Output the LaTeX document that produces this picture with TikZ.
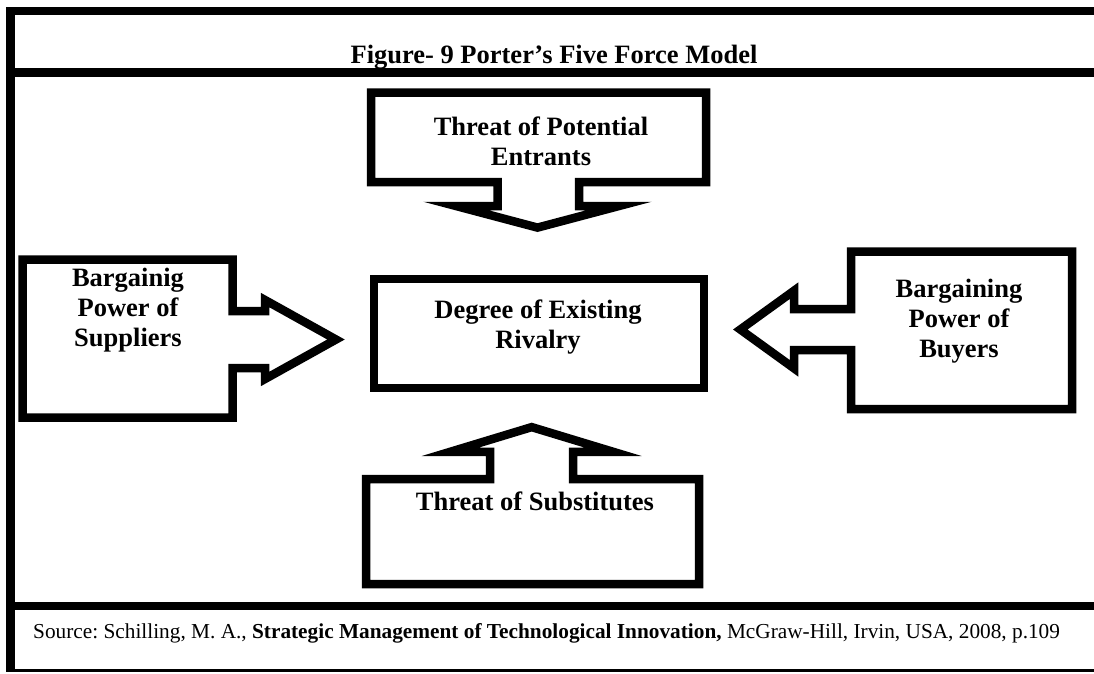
\documentclass[tikz,border=0pt]{standalone}
\usepackage{fontspec}
\setmainfont{Liberation Serif}
\frenchspacing
\begin{document}
\begin{tikzpicture}[x=1pt,y=-1pt,
  callout/.style={draw=black, line width=8.5pt, line join=miter, miter limit=30, fill=white},
  boxtext/.style={font=\fontsize{26.5}{30}\selectfont\bfseries, align=center, inner sep=0pt},
  frameline/.style={draw=black, line width=8.5pt, line cap=butt, line join=miter},
  thinline/.style={draw=black, line width=2.4pt}]
\useasboundingbox (0,0) rectangle (1094,673);
% frame
\draw[frameline] (1094,11) -- (10.5,11) -- (10.5,672);
\draw[frameline] (10.5,72.5) -- (1094,72.5);
\draw[frameline] (10.5,606) -- (1094,606);
\draw[thinline] (10.5,670.5) -- (1094,670.5);
% title
\node[boxtext, anchor=base] (title) at (554,63) {Figure- 9 Porter’s Five Force Model};
% top callout: Threat of Potential Entrants
\draw[callout] (371,92.5) -- (706,92.5) -- (706,182) -- (579,182) -- (579,206) -- (619,206)
  -- (537.5,227.6) -- (456,206) -- (497.5,206) -- (497.5,182) -- (371,182) -- cycle;
\node[boxtext] (entrants) at (541,141.5) {Threat of Potential\\Entrants};
% left callout: suppliers
\draw[callout] (22.5,259.5) -- (232.5,259.5) -- (232.5,311) -- (265,311) -- (265,300)
  -- (336,339.5) -- (265,379) -- (265,368) -- (232.5,368) -- (232.5,417.5) -- (22.5,417.5) -- cycle;
\node[boxtext] (suppliers) at (128,310) {Bargainig\\Power of\\Suppliers};
% right callout: buyers
\draw[callout] (1072,251.5) -- (1072,409) -- (851,409) -- (851,350) -- (794,350) -- (794,368.3)
  -- (740.3,329.5) -- (794,290.7) -- (794,309) -- (851,309) -- (851,251.5) -- cycle;
\node[boxtext] (buyers) at (959,321) {Bargaining\\Power of\\Buyers};
% bottom callout: substitutes
\draw[callout] (366,584) -- (699,584) -- (699,479) -- (573,479) -- (573,451.75) -- (613,451.75)
  -- (531.7,427.1) -- (450.4,451.75) -- (490,451.75) -- (490,479) -- (366,479) -- cycle;
\node[boxtext, anchor=base] (substitutes) at (535,510) {Threat of Substitutes};
% center box
\node[draw=black, line width=8.5pt, minimum width=330pt, minimum height=109pt, inner sep=0pt] (rivalry) at (539,333.5) {};
\node[boxtext] (rivalrytext) at (538,327) {Degree of Existing\\Rivalry};
% source
\node[anchor=base west, inner sep=0pt, font=\fontsize{21.3}{24}\selectfont] (source) at (33,638)
  {Source: Schilling, M. A., \textbf{Strategic Management of Technological Innovation,} McGraw-Hill, Irvin, USA, 2008, p.109};
\end{tikzpicture}
\end{document}
